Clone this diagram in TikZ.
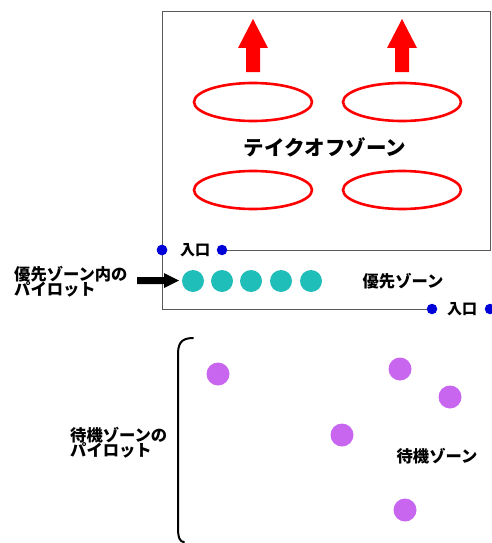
\documentclass[tikz,border=0pt]{standalone}
\usepackage{fontspec}
\usetikzlibrary{shapes.geometric}
\newfontfamily\jpb{Noto Sans CJK JP}[BoldFont={Noto Sans CJK JP Black}]
\begin{document}
\begin{tikzpicture}[x=1pt,y=-1pt,
  zone/.style={draw=black!65,line width=1pt},
  bluedot/.style={circle,fill=blue!85!black,inner sep=0pt,minimum size=10.5pt},
  tealdot/.style={circle,fill={rgb,255:red,32;green,190;blue,185},inner sep=0pt,minimum size=22pt},
  violetdot/.style={circle,fill={rgb,255:red,200;green,102;blue,240},inner sep=0pt,minimum size=23pt},
  runway/.style={draw=red,line width=2.6pt,ellipse,minimum width=118pt,minimum height=38pt,inner sep=0pt},
  uparrow/.style={fill=red},
  lbl/.style={font=\jpb\bfseries\fontsize{16.3}{17}\selectfont,inner sep=0pt},
  lbll/.style={lbl,align=left,anchor=west},
  gate/.style={font=\jpb\bfseries\fontsize{15}{15}\selectfont,inner sep=0pt}]
\useasboundingbox (0,0) rectangle (491,543);
\fill[white] (0,0) rectangle (491,543);
% zone outlines
\coordinate (tl) at (162,12);
\coordinate (tr) at (490,12);
\coordinate (br) at (490,250);
\coordinate (bl) at (162,309);
\node[bluedot] (g1) at (162,250) {};
\node[bluedot] (g2) at (222,250) {};
\node[gate] (gt1) at (195,250) {入口};
\node[bluedot] (g3) at (432,309) {};
\node[bluedot] (g4) at (490,309) {};
\node[gate] (gt2) at (462,309) {入口};
\draw[zone] (g2.east) -- (br) -- (tr) -- (tl) -- (bl) -- (g3.west);
\node[bluedot] at (162,250) {};
% runways
\node[runway] (r1) at (253,102) {};
\node[runway] (r2) at (402,102) {};
\node[runway] (r3) at (253,190) {};
\node[runway] (r4) at (402,190) {};
\fill[uparrow] (246,72) -- (260,72) -- (260,48) -- (268,48) -- (253,19) -- (238,48) -- (246,48) -- cycle;
\fill[uparrow] (395,72) -- (409,72) -- (409,48) -- (417,48) -- (402,19) -- (387,48) -- (395,48) -- cycle;
\node[font=\jpb\bfseries\fontsize{20.5}{21}\selectfont,inner sep=0pt] (tz) at (325,147) {テイクオフゾーン};
% priority zone
\foreach \i/\x in {1/193,2/222,3/251,4/281,5/311}
  \node[tealdot] (p\i) at (\x,281) {};
\node[lbl] (pz) at (403,281) {優先ゾーン};
\node[lbll] (pl) at (14,282) {優先ゾーン内の\\[-2pt]パイロット};
\fill (137,277) -- (164,277) -- (164,273) -- (179,280.5) -- (164,288) -- (164,284) -- (137,284) -- cycle;
% holding zone
\node[violetdot] (v1) at (218,374) {};
\node[violetdot] (v2) at (400,369) {};
\node[violetdot] (v3) at (450,397) {};
\node[violetdot] (v4) at (342,435) {};
\node[violetdot] (v5) at (405,510) {};
\node[lbl] (wz) at (437,456) {待機ゾーン};
\node[lbll] (wl) at (70,443) {待機ゾーンの\\[-2pt]パイロット};
\coordinate (bt) at (193,338);
\coordinate (bb) at (184,542);
\draw[line width=2pt,line cap=round] (bt) .. controls (180,338) and (178,345) .. (178,355) -- (178,528) .. controls (178,538) and (180,542) .. (bb);
\end{tikzpicture}
\end{document}
